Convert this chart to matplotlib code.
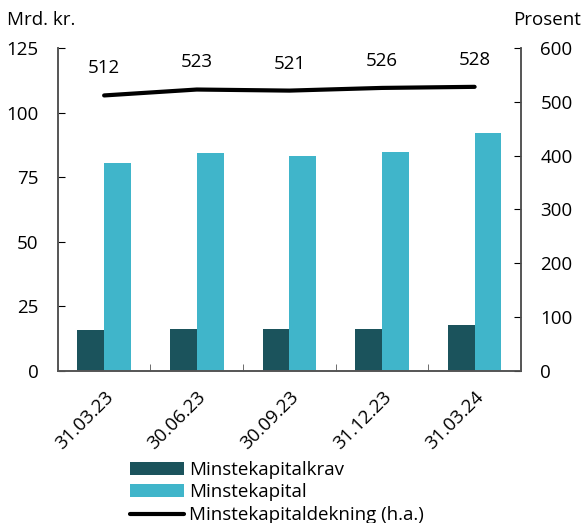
import matplotlib.pyplot as plt
import numpy as np

plt.rcParams['font.family'] = ['Open Sans', 'DejaVu Sans']
plt.rcParams['font.size'] = 13.5

# data
dates = ['31.03.23', '30.06.23', '30.09.23', '31.12.23', '31.03.24']
krav = [16.0, 16.3, 16.3, 16.3, 17.7]
kapital = [80.5, 84.4, 83.3, 84.8, 92.1]
dekning = [512, 523, 521, 526, 528]

dark = '#1b535c'
light = '#40b5ca'

fig = plt.figure(figsize=(5.84, 5.23), dpi=100)
ax = fig.add_axes([0.099, 0.291, 0.793, 0.617])
ax2 = ax.twinx()

x = np.arange(len(dates))
w = 0.29
ax.bar(x - w/2, krav, w, color=dark, label='Minstekapitalkrav')
ax.bar(x + w/2, kapital, w, color=light, label='Minstekapital')
ln, = ax2.plot(x, dekning, color='black', lw=3, solid_capstyle='round',
               label='Minstekapitaldekning (h.a.)')
for xi, v in zip(x, dekning):
    ax2.annotate(str(v), (xi, v), xytext=(0, 13), textcoords='offset points',
                 ha='center', va='bottom')

ax.set_xlim(-0.5, len(dates) - 0.5)
ax.set_ylim(0, 125)
ax2.set_ylim(0, 600)
ax.set_yticks([0, 25, 50, 75, 100, 125])
ax2.set_yticks([0, 100, 200, 300, 400, 500, 600])

ax.set_xticks(x)
ax.set_xticklabels(dates, rotation=45, ha='right', rotation_mode='anchor')
ax.set_xticks(np.arange(-0.5, len(dates)), minor=True)
ax.tick_params(axis='x', which='major', length=0, pad=12)
ax.tick_params(axis='x', which='minor', direction='in', length=5, color='#555555')
ax.tick_params(axis='y', direction='in', length=5, pad=14)
ax2.tick_params(axis='y', direction='in', length=5, pad=14)

for a in (ax, ax2):
    a.spines['top'].set_visible(False)
    for s in ('left', 'right', 'bottom'):
        a.spines[s].set_color('#555555')
        a.spines[s].set_linewidth(1.2)

fig.text(0.012, 0.962, 'Mrd. kr.', ha='left', va='center')
fig.text(0.995, 0.962, 'Prosent', ha='right', va='center')

h1, l1 = ax.get_legend_handles_labels()
fig.legend(h1 + [ln], l1 + [ln.get_label()], loc='upper left',
           bbox_to_anchor=(0.222, 0.119), frameon=False,
           handlelength=2.9, handletextpad=0.27, labelspacing=0.25,
           borderaxespad=0, borderpad=0)

fig.savefig('out.png', dpi=100)
